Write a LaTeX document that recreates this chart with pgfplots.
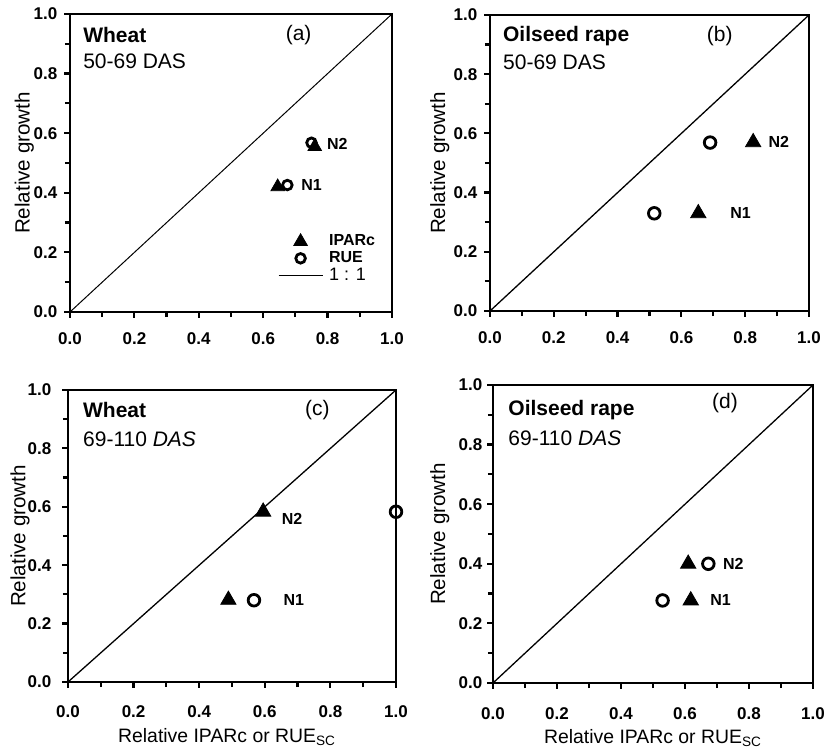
\documentclass[border=0pt]{standalone}
\usepackage{pgfplots}
\pgfplotsset{compat=1.18}
\usepackage{fontspec}
\setmainfont{Liberation Sans}
\pgfplotsset{
  panel/.style={
    scale only axis, anchor=south west,
    xmin=0,xmax=1,ymin=0,ymax=1,
    xtick={0,0.2,0.4,0.6,0.8,1.0}, ytick={0,0.2,0.4,0.6,0.8,1.0},
    minor xtick={0.1,0.3,0.5,0.7,0.9}, minor ytick={0.1,0.3,0.5,0.7,0.9},
    tick align=outside, xtick pos=bottom, ytick pos=left,
    major tick length=2.8pt, minor tick length=2.6pt,
    axis line style={line width=1.4pt},
    every tick/.style={black, line width=1.1pt},
    tick label style={font=\fontsize{8.5}{10}\selectfont\bfseries},
    /pgf/number format/fixed, /pgf/number format/fixed zerofill,
    /pgf/number format/precision=1, /pgf/number format/assume math mode=true,
    ylabel={Relative growth},
    ylabel style={font=\fontsize{10.3}{12}\selectfont, anchor=center},
    clip=false,
  },
  tri/.style={only marks, mark=triangle*, mark size=4.4pt, black, mark options={fill=black}},
  circ/.style={only marks, mark=o, mark size=2.9pt, black, mark options={line width=1.4pt, fill=white}},
  diag/.style={black, line width=0.65pt, no marks},
  markleg/.style={legend image code/.code={\draw[mark repeat=2,mark phase=2,##1] plot coordinates {(0pt,0pt) (11pt,0pt) (22pt,0pt)};}},
  lineleg/.style={legend image code/.code={\draw[##1] (0pt,0pt) -- (22pt,0pt);}},
}
\tikzset{
  lab/.style={anchor=west, font=\fontsize{8}{9}\selectfont\bfseries, inner sep=0pt},
  ttl/.style={anchor=west, font=\fontsize{10.5}{12}\selectfont\bfseries, inner sep=0pt},
  sub/.style={anchor=west, font=\fontsize{10.5}{12}\selectfont, inner sep=0pt},
  pl/.style={anchor=center, font=\fontsize{10.5}{12}\selectfont, inner sep=0pt},
}
\begin{document}
\begin{tikzpicture}
\useasboundingbox (0,0) rectangle (413.5pt,375pt);
% (a)
\begin{axis}[panel, at={(35pt,219pt)}, width=161pt, height=149pt,
  xticklabel style={yshift=-3.8pt},
  ylabel style={at={(axis description cs:-0.142,0.5)}},
  legend style={at={(axis cs:0.645,0.268)}, anchor=north west, draw=none, fill=none,
    font=\fontsize{8}{9}\selectfont\bfseries, inner sep=0pt, row sep=-0.6pt,
    column sep=2pt, nodes={inner sep=1pt}},
  legend cell align=left]
\addplot[tri, mark size=3.9pt, markleg] coordinates {(0.76,0.555) (0.645,0.42)};
\addplot[circ, mark size=2.4pt, markleg] coordinates {(0.75,0.568) (0.675,0.426)};
\addplot[diag, line width=0.5pt, lineleg] coordinates {(0,0) (1,1)};
\legend{IPARc, RUE, {\mdseries\fontsize{9}{9}\selectfont 1 : 1}}
\node[lab] at (axis cs:0.797,0.564) {N2};
\node[lab] at (axis cs:0.717,0.426) {N1};
\node[ttl] at (axis cs:0.04,0.93) {Wheat};
\node[sub] at (axis cs:0.04,0.84) {50-69 DAS};
\node[pl] at (axis cs:0.71,0.93) {(a)};
\end{axis}
% (b)
\begin{axis}[panel, at={(245pt,219.5pt)}, width=159.5pt, height=148pt,
  xticklabel style={yshift=-4pt},
  ylabel style={at={(axis description cs:-0.157,0.5)}}]
\addplot[diag] coordinates {(0,0) (1,1)};
\addplot[tri] coordinates {(0.825,0.57) (0.653,0.33)};
\addplot[circ] coordinates {(0.69,0.569) (0.515,0.33)};
\node[lab] at (axis cs:0.872,0.57) {N2};
\node[lab] at (axis cs:0.752,0.33) {N1};
\node[ttl] at (axis cs:0.04,0.93) {Oilseed rape};
\node[sub] at (axis cs:0.04,0.84) {50-69 DAS};
\node[pl] at (axis cs:0.72,0.93) {(b)};
\end{axis}
% (c)
\begin{axis}[panel, at={(34pt,34pt)}, width=164pt, height=146pt,
  yticklabel style={xshift=-2pt}, xticklabel style={yshift=-5.5pt},
  ylabel style={at={(axis description cs:-0.146,0.5)}},
  xlabel={Relative IPARc or RUE\textsubscript{SC}},
  xlabel style={font=\fontsize{9.7}{11}\selectfont, at={(axis description cs:0.485,-0.188)}, anchor=center}]
\addplot[diag] coordinates {(0,0) (1,1)};
\addplot[tri] coordinates {(0.595,0.583) (0.489,0.281)};
\addplot[circ] coordinates {(1.0,0.583) (0.567,0.28)};
\node[lab] at (axis cs:0.651,0.56) {N2};
\node[lab] at (axis cs:0.656,0.28) {N1};
\node[ttl] at (axis cs:0.045,0.93) {Wheat};
\node[sub] at (axis cs:0.045,0.83) {69-110 \textit{DAS}};
\node[pl] at (axis cs:0.76,0.93) {(c)};
\end{axis}
% (d)
\begin{axis}[panel, at={(246.5pt,33.5pt)}, width=160pt, height=149pt,
  yticklabel style={xshift=1pt}, xticklabel style={yshift=-6pt},
  ylabel style={at={(axis description cs:-0.166,0.5)}},
  xlabel={Relative IPARc or RUE\textsubscript{SC}},
  xlabel style={font=\fontsize{9.7}{11}\selectfont, at={(axis description cs:0.5,-0.185)}, anchor=center}]
\addplot[diag] coordinates {(0,0) (1,1)};
\addplot[tri] coordinates {(0.61,0.40) (0.618,0.277)};
\addplot[circ] coordinates {(0.673,0.40) (0.53,0.277)};
\node[lab] at (axis cs:0.718,0.40) {N2};
\node[lab] at (axis cs:0.678,0.277) {N1};
\node[ttl] at (axis cs:0.047,0.916) {Oilseed rape};
\node[sub] at (axis cs:0.047,0.82) {69-110 \textit{DAS}};
\node[pl] at (axis cs:0.725,0.94) {(d)};
\end{axis}
\end{tikzpicture}
\end{document}
